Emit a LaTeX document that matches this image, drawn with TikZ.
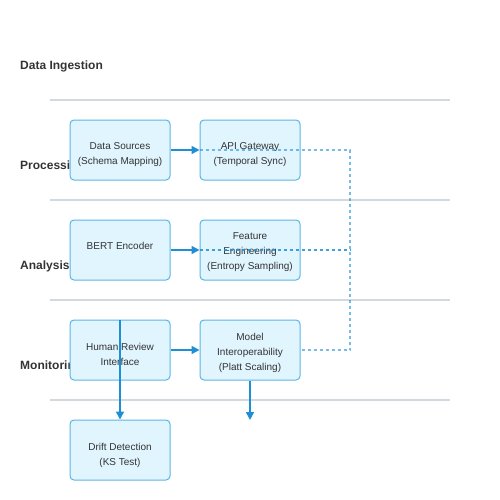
\documentclass[tikz,border=0pt]{standalone}
\usepackage{fontspec}
\setmainfont{Liberation Sans}
\usepackage{tikz}
\usetikzlibrary{positioning, arrows.meta}
\definecolor{boxfill}{HTML}{E1F5FE}
\definecolor{boxline}{HTML}{5AB4E6}
\definecolor{flow}{HTML}{1E8FD5}
\definecolor{lanegray}{HTML}{D3DADF}
\definecolor{txt}{HTML}{333333}

\begin{document}
\begin{tikzpicture}[x=1pt, y=-1pt, on grid,
		proc/.style={draw=boxline, fill=boxfill, line width=1pt, rounded corners=4pt, minimum width=100pt, minimum height=60pt},
		caption/.style={align=center, text=txt, font=\fontsize{10}{15}\selectfont},
		lanelabel/.style={anchor=west, inner sep=0pt, text=txt, font=\fontsize{12}{14}\selectfont\bfseries},
		laneline/.style={draw=lanegray, line width=1.5pt},
		flowarrow/.style={color=flow, line width=1.5pt, -{Triangle[length=8pt, width=8pt]}},
		feedback/.style={draw=flow, draw opacity=0.6, line width=1.5pt, dash pattern=on 3pt off 3pt}]
				\useasboundingbox (0,0) rectangle (500,500);
				% swimlanes
				\foreach \y in {100,200,300,400}
					\draw[laneline] (50,\y) -- (450,\y);
				\foreach \n/\y/\t in {ingest/66.5/Data Ingestion, processing/166.5/Processing, analysis/266.5/Analysis, monitoring/366.5/Monitoring}
					\node[lanelabel] (\n) at (20,\y) {\t};
				% stages
				\node[proc, label={[caption, yshift=-5pt]center:{Data Sources\\(Schema Mapping)}}] (src) at (120,150) {};
				\node[proc, label={[caption, yshift=-5pt]center:{API Gateway\\(Temporal Sync)}}] (gw) [right=130pt of src] {};
				\node[proc, label={[caption, yshift=4pt]center:{BERT Encoder}}] (bert) [below=100pt of src] {};
				\node[proc, label={[caption, yshift=-2.5pt]center:{Feature\\Engineering\\(Entropy Sampling)}}] (feat) [right=130pt of bert] {};
				\node[proc, label={[caption, yshift=-4pt]center:{Human Review\\Interface}}] (review) [below=100pt of bert] {};
				\node[proc, label={[caption, yshift=-2.5pt]center:{Model\\Interoperability\\(Platt Scaling)}}] (model) [right=130pt of review] {};
				\node[proc, label={[caption, yshift=-5pt]center:{Drift Detection\\(KS Test)}}] (drift) [below=100pt of review] {};
				\coordinate[below=70pt of model] (out);
				\coordinate[right=100pt of gw] (bus);
				% feedback
				\draw[feedback] (gw.west) -- (bus) |- (model.east);
				\draw[feedback, draw opacity=0.85] (feat.west) -- (feat.west -| bus);
				% flow
				\path[flowarrow]
				(src) edge (gw)
				(bert) edge (feat)
				(review) edge (model)
				(review.north) edge (drift.north)
				(model) edge (out);
			\end{tikzpicture}
\end{document}
